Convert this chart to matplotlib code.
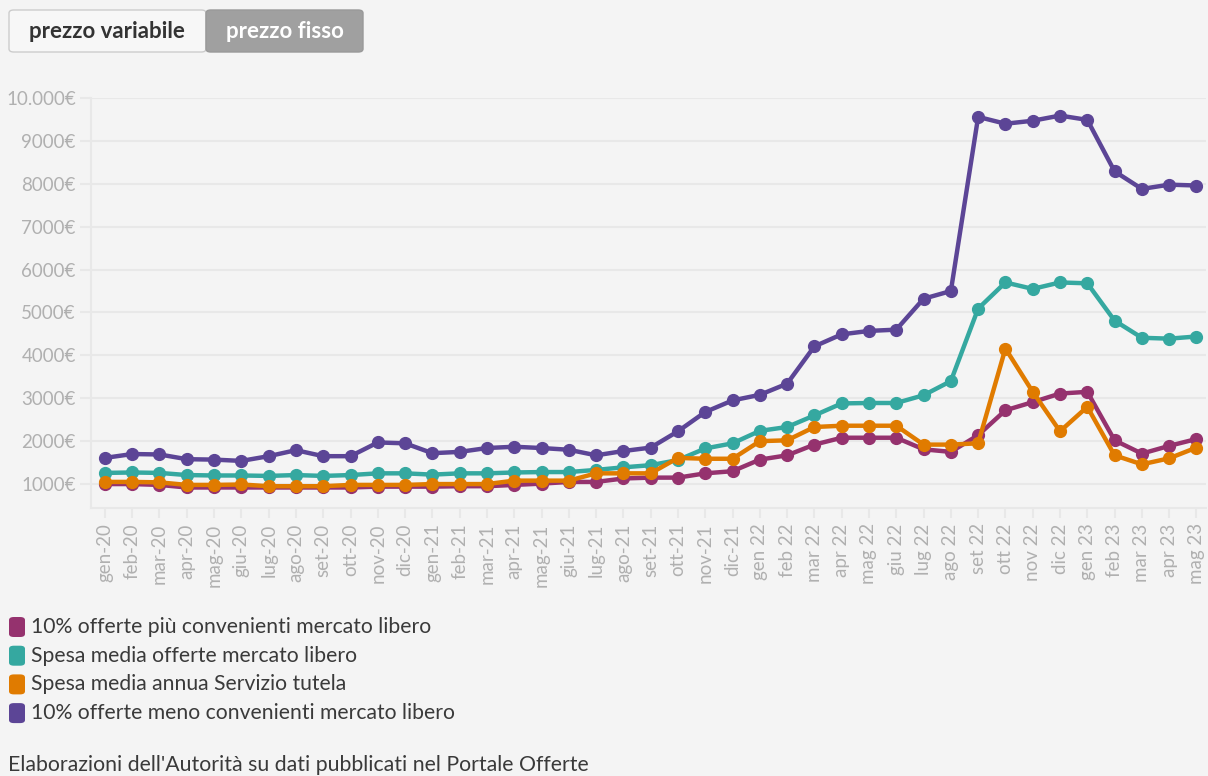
import matplotlib
matplotlib.use("Agg")
import matplotlib.pyplot as plt
from matplotlib.patches import FancyBboxPatch

plt.rcParams['font.family'] = ['Lato', 'DejaVu Sans']

# months on the x axis
mesi = ["gen", "feb", "mar", "apr", "mag", "giu", "lug", "ago", "set", "ott", "nov", "dic"]
etichette = ([m + "-20" for m in mesi] + [m + "-21" for m in mesi]
             + [m + " 22" for m in mesi] + [m + " 23" for m in mesi[:5]])

# 10% offerte più convenienti mercato libero
piu_conv = [1000, 1000, 980, 920, 920, 920, 920, 920, 920, 920, 940, 940,
            940, 950, 950, 980, 1010, 1050, 1050, 1130, 1150, 1150, 1250, 1300,
            1570, 1670, 1920, 2080, 2080, 2080, 1810, 1750, 2140, 2720, 2910, 3110,
            3150, 2020, 1710, 1890, 2050]
# Spesa media offerte mercato libero
media_libero = [1260, 1270, 1260, 1210, 1200, 1200, 1190, 1210, 1190, 1210, 1250, 1250,
                1220, 1250, 1250, 1270, 1280, 1280, 1330, 1390, 1440, 1560, 1830, 1950,
                2240, 2330, 2600, 2880, 2890, 2890, 3070, 3400, 5090, 5700, 5550, 5700,
                5680, 4810, 4410, 4390, 4440]
# Spesa media annua Servizio tutela
tutela = [1050, 1050, 1040, 980, 980, 990, 950, 950, 950, 980, 980, 980,
          1000, 1000, 1000, 1080, 1080, 1080, 1250, 1250, 1250, 1610, 1590, 1590,
          2000, 2020, 2330, 2360, 2360, 2360, 1920, 1920, 1950, 4160, 3150, 2230,
          2800, 1670, 1460, 1600, 1850]
# 10% offerte meno convenienti mercato libero
meno_conv = [1610, 1700, 1690, 1580, 1570, 1540, 1650, 1790, 1650, 1650, 1970, 1950,
             1720, 1750, 1840, 1870, 1840, 1800, 1670, 1770, 1850, 2230, 2680, 2950,
             3080, 3340, 4210, 4490, 4570, 4600, 5320, 5500, 9560, 9400, 9470, 9590,
             9490, 8290, 7880, 7980, 7960]

serie = [
    ("10% offerte più convenienti mercato libero", piu_conv, "#95326e"),
    ("Spesa media offerte mercato libero", media_libero, "#35a8a0"),
    ("Spesa media annua Servizio tutela", tutela, "#e07b00"),
    ("10% offerte meno convenienti mercato libero", meno_conv, "#5c4596"),
]

W, H = 1208, 776
BG = "#f4f4f4"
GRID = "#e8e8e8"


def fx(x):
    return x / W


def fy(y):
    return 1 - y / H


fig = plt.figure(figsize=(W / 100, H / 100), dpi=100, facecolor=BG)
ax = fig.add_axes([fx(91), fy(508), fx(1206) - fx(91), fy(98) - fy(508)])
ax.set_facecolor(BG)

x = list(range(len(etichette)))
# draw order: purple at the back, orange in front
for idx in [3, 1, 0, 2]:
    nome, vals, col = serie[idx]
    ax.plot(x, vals, color=col, lw=3.2, marker="o", ms=8.5, solid_joinstyle="round", zorder=3 + idx)

ax.set_xlim(-0.51, 40.35)
ax.set_ylim(442, 10000)
yt = list(range(1000, 10001, 1000))
ax.set_yticks(yt)
ax.set_yticklabels([f"{v}€" if v < 10000 else "10.000€" for v in yt])
ax.set_xticks(x)
ax.set_xticklabels(etichette, rotation=90)
ax.grid(axis="y", color=GRID, lw=1.5)
ax.set_axisbelow(True)
for s in ["top", "right"]:
    ax.spines[s].set_visible(False)
for s in ["left", "bottom"]:
    ax.spines[s].set_color(GRID)
    ax.spines[s].set_linewidth(1.5)
ax.tick_params(axis="y", length=8, width=1.5, color=GRID, pad=3, labelsize=13.5, labelcolor="#b0b0b0")
ax.tick_params(axis="x", length=7, width=1.5, color=GRID, pad=4, labelsize=13.5, labelcolor="#b0b0b0")

# toggle buttons at the top
b1 = FancyBboxPatch((fx(9), fy(52)), fx(197), fy(10) - fy(52), boxstyle="round,pad=0,rounding_size=0.004",
                    transform=fig.transFigure, facecolor="#f7f7f7", edgecolor="#cccccc", lw=1)
b2 = FancyBboxPatch((fx(206), fy(52)), fx(157), fy(10) - fy(52), boxstyle="round,pad=0,rounding_size=0.004",
                    transform=fig.transFigure, facecolor="#a0a0a0", edgecolor="#999999", lw=1)
fig.add_artist(b1)
fig.add_artist(b2)
fig.text(fx(107), fy(31), "prezzo variabile", ha="center", va="center", fontsize=16, fontweight="bold", color="#333333")
fig.text(fx(285), fy(31), "prezzo fisso", ha="center", va="center", fontsize=16, fontweight="bold", color="white")

# legend
for i, (nome, vals, col) in enumerate(serie):
    yc = 627 + i * 28.7
    sq = FancyBboxPatch((fx(9), fy(yc + 10)), fx(16), fy(yc - 10) - fy(yc + 10),
                        boxstyle="round,pad=0,rounding_size=0.004", transform=fig.transFigure,
                        facecolor=col, edgecolor="none")
    fig.add_artist(sq)
    fig.text(fx(31), fy(yc), nome, ha="left", va="center", fontsize=15.2, color="#3a3a3a")

fig.text(fx(8), fy(765), "Elaborazioni dell'Autorità su dati pubblicati nel Portale Offerte",
         ha="left", va="center", fontsize=15.3, color="#3a3a3a")

fig.savefig("out.png", dpi=100, facecolor=BG)
